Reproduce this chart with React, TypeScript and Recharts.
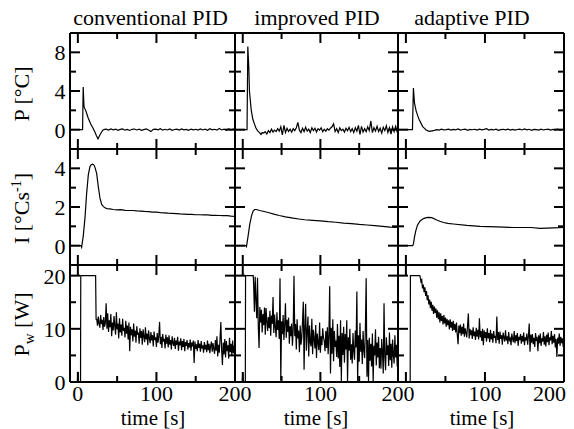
import React from 'react';
import { LineChart, Line, XAxis, YAxis } from 'recharts';

const FONT = '"Liberation Serif", "Times New Roman", Times, serif';
const INK = '#000000';
const CHART_W = 574;
const CHART_H = 429;
const colEdges = [70, 235, 398, 564];
const rowEdges = [33, 149, 265, 382];

const columnTitles = ['conventional PID', 'improved PID', 'adaptive PID'];
const columnTitleX = [150.5, 317, 472];
const timeTitleX = [153, 316, 482];
const rowTitleY = [94, 208.5, 324.5];

const timeDomain = [-10, 200];
const timeTicks = [0, 50, 100, 150, 200];
const timeMajor = [0, 100, 200];
const timeLabelsByCol = [[0, 100, 200], [100, 200], [100, 200]];

const rowDomains = [[-2, 10], [-1, 5], [0, 22]];
const rowTicks = [[0, 2, 4, 6, 8], [0, 1, 2, 3, 4], [0, 5, 10, 15, 20]];
const rowMajor = [[0, 4, 8], [0, 2, 4], [0, 10, 20]];

// ---------- P [°C] ----------
const pConvTime = [-10, 6.0, 6.8, 7.8, 9, 10.8, 12.9, 15, 17, 19.2, 21.4, 23.5, 25.6, 27.7, 30, 32, 34];
const pConvValue = [0, 0, 4.4, 2.4, 2.15, 1.8, 1.26, 0.85, 0.48, 0.17, -0.2, -0.6, -0.96, -0.6, -0.27, -0.03, 0.03];
const pConvNoiseStart = 36;
const pConvNoiseStep = 3;
const pConvNoise = [
  0.05, -0.04, 0.08, -0.02, 0.06, -0.07, 0.03, 0.09, -0.05, 0.02,
  -0.08, 0.04, 0.07, -0.03, 0.05, -0.06, 0.01, 0.08, -0.04, -0.2,
  0.03, 0.06, -0.02, 0.1, -0.05, 0.04, -0.03, 0.07, -0.06, 0.02,
  0.05, -0.04, 0.08, -0.02, 0.03, -0.07, 0.06, -0.01, 0.04, -0.05,
  0.07, -0.03, 0.05, -0.06, 0.09, -0.02, 0.04, -0.05, 0.12, -0.03,
  0.06, -0.04, 0.08, -0.02, 0.05, 0.03,
];

const pImpTime = [-10, 5.5, 6.5, 7.8, 8.6, 10.8, 12.9, 15, 17, 19, 21.5, 23.5, 25];
const pImpValue = [0, 0, 8.6, 6.4, 4.0, 2.1, 1.1, 0.6, 0.17, -0.1, -0.3, -0.5, -0.3];
const pImpNoiseStart = 27;
const pImpNoiseStep = 2;
const pImpNoise = [
  -0.35, -0.2, -0.45, -0.1, -0.3, 0.05, -0.25, -0.05, -0.2, 0.1,
  -0.15, 0.3, -0.55, 0.45, -0.3, 0.15, -0.2, 0.05, -0.25, 0.1,
  -0.1, 0.2, 0.75, -0.05, -0.3, 0.15, -0.2, 0.25, -0.15, 0.05,
  -0.3, 0.2, -0.1, 0.15, -0.25, 0.1, -0.05, 0.2, -0.2, 0.05,
  -0.15, 0.1, -0.05, 0.15, 0.3, 0.6, -0.2, 0.1, -0.3, 0.2,
  -0.1, 0.05, -0.25, 0.15, -0.1, 0.25, -0.2, 0.1, -0.3, 0.2,
  -0.15, 0.45, -0.5, 0.35, -0.25, 0.1, -0.2, 0.3, -0.1, 0.9,
  -0.3, 0.2, -0.15, 0.35, -0.2, 0.15, -0.35, 0.25, -0.1, 0.4,
  -0.3, 0.2, -0.45, 0.3, -0.2, 0.35, -0.25, 0.1,
];

const pAdTime = [-10, 8.3, 9.5, 10.8, 12.9, 15, 17, 19.2, 21, 23.5, 25.6, 28, 30];
const pAdValue = [0, 0, 4.3, 2.8, 1.95, 1.43, 1.0, 0.65, 0.34, 0.14, -0.03, -0.12, -0.17];
const pAdNoiseStart = 33;
const pAdNoiseStep = 3;
const pAdNoise = [
  -0.12, -0.08, 0.0, -0.04, 0.05, -0.03, 0.01, 0.06, -0.05, 0.03,
  -0.02, 0.07, -0.04, 0.02, 0.05, -0.06, 0.03, -0.01, 0.04, -0.05,
  0.06, -0.02, 0.03, 0.1, -0.04, 0.02, -0.03, 0.05, -0.06, 0.01,
  0.04, -0.02, 0.06, -0.04, 0.03, -0.05, 0.02, 0.05, -0.03, 0.07,
  -0.02, 0.04, -0.06, 0.03, 0.01, -0.04, 0.06, -0.03, 0.02, 0.05,
  -0.05, 0.03, -0.02, 0.06, -0.04, 0.02, 0.03,
];

// ---------- I [°Cs-1] ----------
const iConvTime = [-10, 4, 4.8, 6.9, 9.1, 11.2, 13.3, 15.4, 17, 18.8, 20.5, 21.8, 23.9, 26, 28.1, 30.3, 32.5, 34.5, 37, 40.8, 45, 50, 55, 60, 65, 70, 75, 80, 85, 90, 95, 100, 105, 110, 115, 120, 125, 130, 135, 140, 145, 150, 155, 160, 165, 170, 175, 180, 185, 190, 195, 200];
const iConvValue = [0, 0, -0.08, 0.51, 1.45, 2.72, 3.66, 4.09, 4.19, 4.22, 4.17, 4.05, 3.74, 3.06, 2.47, 2.13, 2.02, 1.96, 1.92, 1.9, 1.87, 1.85, 1.86, 1.83, 1.82, 1.82, 1.8, 1.79, 1.77, 1.76, 1.74, 1.73, 1.71, 1.7, 1.68, 1.67, 1.66, 1.64, 1.63, 1.62, 1.62, 1.6, 1.6, 1.59, 1.59, 1.57, 1.57, 1.56, 1.55, 1.55, 1.53, 1.52];

const iImpTime = [-10, 4, 4.8, 6.9, 9, 11.2, 13.3, 15.4, 17.5, 21.8, 26, 30.3, 35, 40, 47, 55, 65, 72, 80, 90, 100, 110, 120, 130, 140, 150, 160, 170, 180, 190, 200];
const iImpValue = [0, 0, -0.05, 0.51, 1.1, 1.53, 1.79, 1.87, 1.87, 1.82, 1.78, 1.74, 1.69, 1.63, 1.56, 1.49, 1.42, 1.38, 1.34, 1.31, 1.28, 1.24, 1.21, 1.17, 1.14, 1.1, 1.07, 1.04, 1.0, 0.96, 0.95];

const iAdTime = [-10, 8.6, 9.5, 10.8, 12.5, 14.6, 18, 22.2, 26, 28.6, 32.8, 39, 43, 47.6, 53, 60, 77, 94, 115, 137, 158, 170, 187, 200];
const iAdValue = [0, 0, 0.09, 0.43, 0.77, 1.06, 1.28, 1.4, 1.45, 1.46, 1.45, 1.33, 1.26, 1.2, 1.15, 1.12, 1.05, 1.0, 0.97, 0.94, 0.94, 0.89, 0.92, 0.94];

// ---------- Pw [W] ----------
const pwConvTime = [-10, -0.6, 0, 0.7, 3.4, 3.7, 22.6, 23.2];
const pwConvValue = [0, 0, 1.9, 0, 0, 20, 20, 11.8];
const pwConvNoiseStart = 24;
const pwConvNoiseStep = 1;
const pwConvNoise = [
  11.8, 10.6, 12.3, 11.0, 10.2, 12.6, 10.9, 11.7, 9.8, 12.2,
  10.4, 11.1, 14.8, 10.0, 12.9, 9.4, 11.6, 10.3, 12.8, 8.6,
  11.2, 9.7, 12.4, 10.5, 8.9, 13.1, 9.9, 11.0, 8.2, 12.0,
  9.3, 10.8, 8.7, 11.9, 9.6, 10.2, 8.4, 11.5, 9.1, 10.6,
  8.0, 11.2, 5.8, 10.4, 8.8, 9.9, 7.6, 11.0, 8.5, 9.7,
  7.4, 10.5, 8.9, 9.3, 7.2, 10.1, 8.3, 9.6, 7.0, 9.9,
  8.6, 7.5, 10.3, 8.0, 9.1, 6.9, 9.7, 8.2, 7.3, 9.4,
  7.8, 8.8, 6.7, 9.5, 7.9, 8.4, 6.6, 9.2, 7.4, 8.7,
  11.3, 7.1, 8.5, 6.4, 9.0, 7.6, 8.1, 6.3, 8.9, 7.2,
  8.4, 6.5, 8.8, 7.0, 7.9, 6.1, 8.6, 7.3, 6.8, 8.3,
  6.2, 7.8, 7.0, 8.5, 5.9, 7.6, 6.9, 8.2, 6.0, 7.7,
  6.6, 8.1, 5.8, 7.5, 6.8, 7.9, 6.1, 7.3, 6.5, 8.0,
  5.9, 7.4, 6.7, 7.8, 3.6, 7.6, 6.2, 7.1, 5.8, 7.9,
  6.4, 7.2, 5.7, 7.7, 6.3, 6.9, 5.5, 7.5, 6.1, 7.0,
  5.6, 7.8, 6.0, 7.2, 5.4, 6.8, 7.6, 5.7, 7.3, 6.2,
  5.3, 7.9, 5.9, 8.6, 4.8, 7.0, 5.5, 8.2, 11.3, 6.0,
  3.2, 7.4, 5.2, 8.1, 4.6, 7.7, 5.8, 6.9, 4.4, 8.3,
  5.6, 7.2, 4.9, 7.8, 5.4, 6.8, 5.9,
];

const pwImpTime = [-10, -0.6, 0, 0.7, 3.3, 3.6, 13.5];
const pwImpValue = [0, 0, 1.8, 0, 0, 20, 20];
const pwImpNoiseStart = 14;
const pwImpNoiseStep = 1;
const pwImpNoise = [
  18.5, 13.2, 19.8, 15.4, 12.0, 19.6, 10.5, 6.4, 14.1, 11.2,
  13.6, 9.3, 12.8, 10.7, 14.0, 8.9, 13.9, 11.5, 9.6, 12.2,
  10.1, 13.4, 8.7, 12.5, 10.9, 16.0, 9.2, 12.7, 10.3, 8.4,
  13.1, 9.8, 11.6, 8.1, 19.5, 0.3, 11.4, 9.0, 12.6, 7.9,
  10.8, 14.8, 8.3, 11.7, 9.4, 12.1, 7.2, 10.5, 8.6, 11.0,
  6.8, 9.9, 20.0, 8.6, 10.9, 6.1, 11.8, 8.2, 9.7, 5.6,
  10.6, 7.0, 8.3, 11.4, 15.1, 2.3, 10.4, 14.7, 5.9, 9.5,
  12.3, 4.8, 10.6, 7.5, 6.7, 11.9, 5.2, 9.8, 8.1, 6.3,
  10.7, 4.5, 9.1, 7.4, 6.0, 11.2, 5.5, 8.6, 6.9, 10.1,
  8.4, 7.7, 5.8, 9.6, 6.4, 10.3, 5.2, 8.9, 18.0, 1.6,
  10.2, 5.3, 11.8, 3.9, 9.6, 6.6, 7.8, 4.7, 10.9, 4.4,
  8.7, 2.8, 11.6, 0.2, 9.2, 5.1, 10.4, 3.6, 9.0, 6.1,
  11.6, 0.1, 8.4, 5.9, 10.0, 4.2, 7.1, 3.5, 9.2, 5.8,
  4.2, 9.7, 6.5, 17.0, 0.1, 8.8, 3.8, 11.1, 5.7, 8.0,
  3.4, 9.6, 6.0, 4.5, 10.2, 19.5, 1.0, 7.9, 0.2, 8.3,
  4.0, 7.2, 2.9, 9.1, 0.1, 6.8, 5.0, 9.9, 3.1, 7.4,
  4.6, 8.5, 2.6, 6.4, 2.5, 8.1, 5.4, 1.6, 14.8, 4.7,
  2.2, 8.4, 5.1, 6.9, 3.0, 9.3, 4.1, 7.2, 2.7, 8.0,
  5.3, 3.5, 8.8, 4.6, 7.0, 2.9, 6.0,
];

const pwAdTime = [-10, 5.4, 5.7, 17.5];
const pwAdValue = [0, 0, 20, 20];
const pwAdNoiseStart = 18;
const pwAdNoiseStep = 1;
const pwAdNoise = [
  19.8, 18.9, 19.2, 17.6, 18.3, 16.9, 17.8, 16.2, 17.1, 15.4,
  16.3, 14.6, 15.5, 13.9, 15.1, 13.4, 14.5, 12.8, 14.2, 13.0,
  13.8, 12.1, 13.5, 11.8, 13.1, 11.2, 12.9, 11.5, 12.4, 10.8,
  12.6, 11.0, 12.1, 10.4, 11.9, 10.7, 11.6, 9.9, 11.8, 10.2,
  11.3, 9.6, 11.5, 9.8, 10.9, 9.3, 11.2, 8.9, 7.1, 10.6,
  9.2, 10.8, 8.7, 10.4, 9.0, 11.0, 8.5, 10.1, 9.3, 8.4,
  10.6, 12.9, 8.2, 10.0, 8.8, 9.7, 8.1, 10.3, 8.6, 9.5,
  7.9, 10.2, 8.5, 9.8, 8.0, 12.0, 8.4, 9.6, 7.7, 10.0,
  6.9, 9.7, 8.3, 9.4, 7.6, 10.1, 8.2, 9.2, 7.5, 9.8,
  8.0, 9.1, 7.4, 9.6, 8.3, 8.7, 7.3, 12.3, 7.9, 9.4,
  7.2, 9.5, 8.1, 8.8, 7.0, 9.3, 8.4, 7.6, 9.7, 7.8,
  8.6, 7.1, 9.4, 7.9, 8.2, 6.9, 9.1, 8.0, 7.5, 9.6,
  7.3, 8.8, 7.7, 9.2, 6.8, 8.5, 7.9, 9.0, 7.2, 8.7,
  7.6, 9.3, 6.9, 8.4, 7.8, 9.1, 7.0, 8.6, 11.0, 5.7,
  8.9, 7.4, 9.0, 7.1, 8.3, 6.6, 9.2, 7.7, 8.5, 5.8,
  8.8, 7.3, 9.1, 6.8, 8.2, 7.6, 9.4, 7.0, 8.6, 6.7,
  8.9, 7.5, 9.3, 6.9, 8.4, 7.8, 9.6, 7.1, 8.7, 7.4,
  9.0, 6.5, 8.1, 4.7, 8.3, 7.2, 9.1, 6.8, 8.5, 7.3,
  8.2, 6.6, 8.0,
];

type Pt = { t: number; v: number };

function buildSeries(times: number[], values: number[], noiseStart?: number, noiseStep?: number, noise?: number[]): Pt[] {
  const out: Pt[] = times.map((t, i) => ({ t, v: values[i] }));
  if (noise && noiseStart !== undefined && noiseStep !== undefined) {
    noise.forEach((v, i) => out.push({ t: noiseStart + i * noiseStep, v }));
  }
  return out;
}

const panelData: Pt[][][] = [
  [
    buildSeries(pConvTime, pConvValue, pConvNoiseStart, pConvNoiseStep, pConvNoise),
    buildSeries(pImpTime, pImpValue, pImpNoiseStart, pImpNoiseStep, pImpNoise),
    buildSeries(pAdTime, pAdValue, pAdNoiseStart, pAdNoiseStep, pAdNoise),
  ],
  [
    buildSeries(iConvTime, iConvValue),
    buildSeries(iImpTime, iImpValue),
    buildSeries(iAdTime, iAdValue),
  ],
  [
    buildSeries(pwConvTime, pwConvValue, pwConvNoiseStart, pwConvNoiseStep, pwConvNoise),
    buildSeries(pwImpTime, pwImpValue, pwImpNoiseStart, pwImpNoiseStep, pwImpNoise),
    buildSeries(pwAdTime, pwAdValue, pwAdNoiseStart, pwAdNoiseStep, pwAdNoise),
  ],
];

const textStyle = { fontFamily: FONT, fontSize: 22, fill: INK };

function RowTitle({ row }: { row: number }) {
  const x = 29;
  const y = rowTitleY[row];
  const common = { x, y, transform: `rotate(-90 ${x} ${y})`, textAnchor: 'middle' as const, ...textStyle };
  if (row === 0) return <text {...common}>P [°C]</text>;
  if (row === 1)
    return (
      <text {...common}>
        I [°Cs<tspan dy={-8} fontSize={14}>-1</tspan><tspan dy={8}>]</tspan>
      </text>
    );
  return (
    <text {...common}>
      P<tspan dy={5} fontSize={15}>w</tspan><tspan dy={-5}> [W]</tspan>
    </text>
  );
}

const AXIS_PX = 1;

function Panel({ row, col }: { row: number; col: number }) {
  const margin = {
    left: colEdges[col] - AXIS_PX,
    right: CHART_W - colEdges[col + 1] - AXIS_PX,
    top: rowEdges[row] - AXIS_PX,
    bottom: CHART_H - rowEdges[row + 1] - AXIS_PX,
  };
  const axisLine = { stroke: INK, strokeWidth: 2 };

  const xTick = (side: 'top' | 'bottom') => (p: any) => {
    const { x, y, payload } = p;
    const v = payload.value;
    const len = timeMajor.includes(v) ? 10 : 6;
    const y2 = side === 'bottom' ? y - len : y + len;
    const showLabel = side === 'bottom' && row === 2 && timeLabelsByCol[col].includes(v);
    let anchor: 'middle' | 'end' = 'middle';
    let lx = x;
    if (col === 2 && v === 200) {
      anchor = 'end';
      lx = x + 2;
    }
    return (
      <g>
        <line x1={x} y1={y} x2={x} y2={y2} stroke={INK} strokeWidth={2} />
        {showLabel && (
          <text x={lx} y={y + 19} textAnchor={anchor} {...textStyle}>
            {v}
          </text>
        )}
      </g>
    );
  };

  const yTick = (side: 'left' | 'right') => (p: any) => {
    const { x, y, payload } = p;
    const v = payload.value;
    const len = rowMajor[row].includes(v) ? 10 : 6;
    const x2 = side === 'left' ? x + len : x - len;
    const showLabel = side === 'left' && col === 0 && rowMajor[row].includes(v);
    return (
      <g>
        <line x1={x} y1={y} x2={x2} y2={y} stroke={INK} strokeWidth={2} />
        {showLabel && (
          <text x={x - 4.5} y={y + 8} textAnchor="end" {...textStyle}>
            {v}
          </text>
        )}
      </g>
    );
  };

  const topLabel =
    row === 0
      ? {
          content: () => (
            <text x={columnTitleX[col]} y={25} textAnchor="middle" {...textStyle}>
              {columnTitles[col]}
            </text>
          ),
        }
      : undefined;
  const bottomLabel =
    row === 2
      ? {
          content: () => (
            <text x={timeTitleX[col]} y={425} textAnchor="middle" {...textStyle} fontSize={21}>
              time [s]
            </text>
          ),
        }
      : undefined;
  const leftLabel = col === 0 ? { content: () => <RowTitle row={row} /> } : undefined;

  return (
    <div style={{ position: 'absolute', left: 0, top: 0 }}>
      <LineChart width={CHART_W} height={CHART_H} data={panelData[row][col]} margin={margin}>
        <XAxis
          xAxisId="b"
          orientation="bottom"
          dataKey="t"
          type="number"
          domain={timeDomain}
          allowDataOverflow
          ticks={timeTicks}
          interval={0}
          height={AXIS_PX}
          tickSize={0}
          tickMargin={0}
          tickLine={false}
          axisLine={axisLine}
          tick={xTick('bottom')}
          label={bottomLabel}
        />
        <XAxis
          xAxisId="t"
          orientation="top"
          dataKey="t"
          type="number"
          domain={timeDomain}
          allowDataOverflow
          ticks={timeTicks}
          interval={0}
          height={AXIS_PX}
          tickSize={0}
          tickMargin={0}
          tickLine={false}
          axisLine={axisLine}
          tick={xTick('top')}
          label={topLabel}
        />
        <YAxis
          yAxisId="l"
          orientation="left"
          type="number"
          domain={rowDomains[row]}
          allowDataOverflow
          ticks={rowTicks[row]}
          interval={0}
          width={AXIS_PX}
          tickSize={0}
          tickMargin={0}
          tickLine={false}
          axisLine={axisLine}
          tick={yTick('left')}
          label={leftLabel}
        />
        <YAxis
          yAxisId="r"
          orientation="right"
          type="number"
          domain={rowDomains[row]}
          allowDataOverflow
          ticks={rowTicks[row]}
          interval={0}
          width={AXIS_PX}
          tickSize={0}
          tickMargin={0}
          tickLine={false}
          axisLine={axisLine}
          tick={yTick('right')}
        />
        <Line
          xAxisId="b"
          yAxisId="l"
          dataKey="v"
          type="linear"
          stroke={INK}
          strokeWidth={1.2}
          dot={false}
          activeDot={false}
          isAnimationActive={false}
        />
      </LineChart>
    </div>
  );
}

export default function App() {
  const panels = [];
  for (let r = 0; r < 3; r++) {
    for (let c = 0; c < 3; c++) {
      panels.push(<Panel key={`${r}-${c}`} row={r} col={c} />);
    }
  }
  return (
    <div style={{ position: 'absolute', left: 0, top: 0, width: CHART_W, height: CHART_H, background: '#fff' }}>
      {panels}
    </div>
  );
}
